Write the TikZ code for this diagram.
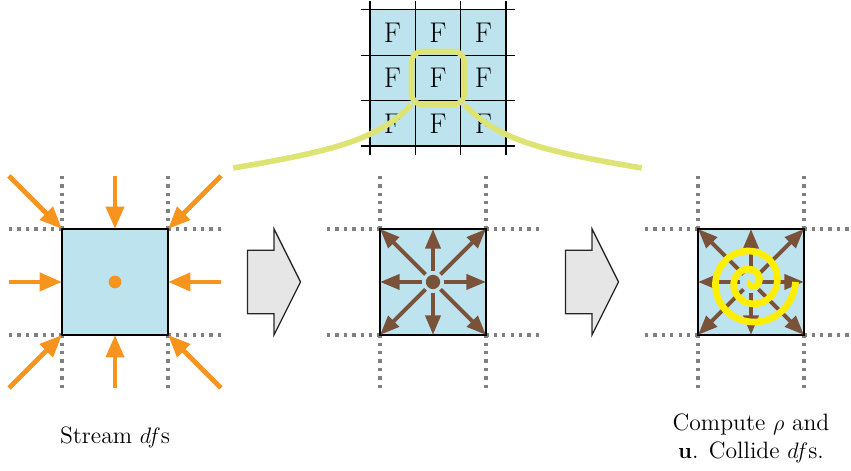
\documentclass[tikz,border=0pt]{standalone}
\usetikzlibrary{arrows.meta,calc,backgrounds}

\definecolor{cellblue}{RGB}{189,227,239}
\definecolor{flowin}{RGB}{247,148,30}
\definecolor{flowout}{RGB}{122,82,58}
\definecolor{calloutc}{RGB}{221,228,115}
\definecolor{spiralc}{RGB}{255,238,0}
\definecolor{gridgray}{RGB}{128,128,128}
\definecolor{blockgray}{RGB}{230,230,230}

\tikzset{
  cell/.style={draw=black, line width=1pt, fill=cellblue, minimum size=2cm,
    inner sep=0pt, outer sep=0pt},
  latt/.style={gridgray, line width=1.8pt, dash pattern=on 1.8pt off 2.7pt},
  inflow/.style={flowin, line width=2.6pt, -{Triangle[length=12pt,width=9.5pt]}},
  outflow/.style={flowout, line width=2.1pt, -{Triangle[length=10.5pt,width=8pt]}},
  blockarrow/.style={draw=black!85, line width=0.7pt, fill=blockgray},
  caption/.style={font=\fontsize{12.7}{14.6}\selectfont, align=center},
  callout/.style={calloutc, line width=3pt},
  letter/.style={font=\fontsize{15.3}{18}\selectfont, inner sep=0pt},
  dotnode/.style={circle, inner sep=0pt, minimum size=#1},
  finegrid/.style={black, line width=0.7pt},
}

\begin{document}
\begin{tikzpicture}
\useasboundingbox (-2.17,-3.566) rectangle (13.887,5.32);

% --- the three lattice cells --------------------------------------------
\node[cell] (c1) at (0,0) {};
\node[cell] (c2) at (6,0) {};
\node[cell] (c3) at (12,0) {};

% dotted lattice lines running out from each corner
\begin{scope}[on background layer]
  \foreach \c in {c1,c2,c3} {
    \foreach \anc/\dx/\dy in {north west/-1/0, north west/0/1,
        north east/1/0, north east/0/1, south west/-1/0, south west/0/-1,
        south east/1/0, south east/0/-1} {
      \draw[latt] ([shift={(\dx,\dy)}]\c.\anc) -- (\c.\anc);
    }
  }
\end{scope}

% --- streaming: populations arrive from the neighbours ------------------
\foreach \anc/\dx/\dy in {north/0/1, south/0/-1, east/1/0, west/-1/0,
    north east/1/1, north west/-1/1, south east/1/-1, south west/-1/-1} {
  \coordinate (src-\anc) at ([shift={(\dx,\dy)}]c1.\anc);
  \draw[inflow] (src-\anc) -- (c1.\anc);
}
\node[dotnode=0.24cm, fill=flowin] (site1) at (c1.center) {};

% --- populations leaving the centre node ---------------------------------
\foreach \c in {c2,c3} {
  \foreach \anc in {north,south,east,west,north east,north west,south east,south west} {
    \draw[outflow] ($(\c.center)!0.2cm!(\c.\anc)$) -- (\c.\anc);
  }
}
\node[dotnode=0.27cm, fill=flowout] (site2) at (c2.center) {};

% collision swirl
\draw[spiralc, line width=3.6pt]
  plot[domain=-870:0, samples=220, variable=\t]
  ({12+(0.84+0.345*\t/360)*cos(\t)}, {(0.84+0.345*\t/360)*sin(\t)});

% --- block arrows between the stages -------------------------------------
\coordinate (m1) at ($(c1.east)!0.5!(c2.west)$);
\coordinate (m2) at ($(c2.east)!0.5!(c3.west)$);
\foreach \m in {m1,m2} {
  \draw[blockarrow] ([shift={(-0.5,0.6)}]\m) -- ++(0.5,0) -- ++(0,0.4)
    -- ++(0.5,-1) -- ++(-0.5,-1) -- ++(0,0.4) -- ++(-0.5,0) -- cycle;
}

% --- captions -------------------------------------------------------------
\node[caption] (cap1) at (0,-2.94) {Stream $df$s};
\node[caption] (cap3) at (12,-2.95) {Compute $\rho$ and\\ $\mathbf{u}$. Collide $df$s.};

% --- the lattice of F nodes ----------------------------------------------
\begin{scope}[shift={(6.094,3.849)}]
  \fill[cellblue] (-1.2855,-1.2855) rectangle (1.2855,1.2855);
  \foreach \k in {-1.5,-0.5,0.5,1.5} {
    \draw[finegrid] (\k*0.857,-1.4555) -- (\k*0.857,1.4555);
    \draw[finegrid] (-1.4555,\k*0.857) -- (1.4555,\k*0.857);
  }
  \foreach \r in {-1,0,1} {
    \foreach \q in {-1,0,1} {
      \node[letter] (f\r\q) at (\q*0.857,\r*0.857) {F};
    }
  }
  \node[draw=calloutc, line width=3pt, rounded corners=0.2cm,
    minimum size=1cm, inner sep=0pt] (zoombox) at (0,0) {};
\end{scope}

% callout lines from the highlighted node down to the cells
\coordinate (zoomL) at (2.23,2.15);
\coordinate (zoomR) at (9.94,2.15);
\draw[callout] ([shift={(0.05,0.05)}]zoombox.south west)
  .. controls +(-0.62,-0.68) and +(1.77,0.3) .. (zoomL);
\draw[callout] ([shift={(-0.05,0.05)}]zoombox.south east)
  .. controls +(0.62,-0.68) and +(-1.77,0.3) .. (zoomR);

\end{tikzpicture}
\end{document}
